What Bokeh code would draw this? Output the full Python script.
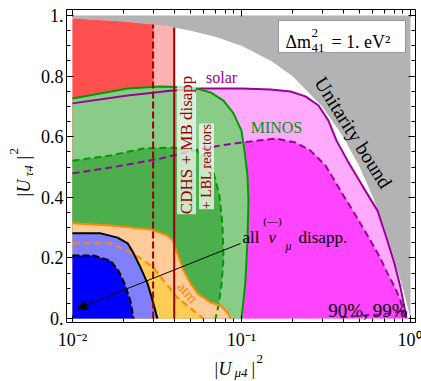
import numpy as np
from bokeh.plotting import figure
from bokeh.models import (Range1d, LogAxis, LinearAxis, FixedTicker, Label, Arrow,
                          NormalHead, BoxAnnotation, LogScale)
from bokeh.embed import file_html
from bokeh.resources import INLINE

# ---------------- data ----------------
# unitarity bound |U_mu4|^2 + |U_tau4|^2 = 1
ub_x = [0.01, 0.02, 0.03, 0.04, 0.05, 0.07, 0.1, 0.15, 0.2, 0.3, 0.4, 0.5, 0.6, 0.7, 0.8, 0.9, 0.95, 1.0]
ub_y = [0.99, 0.98, 0.97, 0.96, 0.95, 0.93, 0.90, 0.85, 0.80, 0.70, 0.60, 0.50, 0.40, 0.30, 0.20, 0.10, 0.05, 0.0]

# solar (99% solid, 90% dashed)
solar99_x = [0.0100, 0.0212, 0.0380, 0.0572, 0.100, 0.1485, 0.195, 0.239, 0.2855, 0.327, 0.365, 0.424, 0.527, 0.638, 0.721, 0.804, 0.873, 0.921, 0.947]
solar99_y = [0.710, 0.736, 0.752, 0.759, 0.759, 0.756, 0.749, 0.733, 0.703, 0.653, 0.587, 0.521, 0.432, 0.356, 0.267, 0.182, 0.102, 0.036, 0.0]
solar90_x = [0.0100, 0.0168, 0.0332, 0.0520, 0.0751, 0.100, 0.113, 0.159, 0.209, 0.256, 0.314, 0.401, 0.486, 0.580, 0.665, 0.731, 0.815, 0.873, 0.934]
solar90_y = [0.479, 0.498, 0.528, 0.554, 0.571, 0.581, 0.584, 0.594, 0.581, 0.554, 0.505, 0.406, 0.330, 0.257, 0.198, 0.149, 0.099, 0.059, 0.0]
solar90b_x = [0.385, 0.506, 0.665, 0.815, 0.934]
solar90b_y = [0.003, 0.010, 0.013, 0.020, 0.030]

# MINOS (99% solid, 90% dashed)
minos99_x = [0.0100, 0.0212, 0.0332, 0.0520, 0.0656, 0.0783, 0.0897, 0.100, 0.1042, 0.1085, 0.1100, 0.1085, 0.1056, 0.1028, 0.100]
minos99_y = [0.726, 0.759, 0.766, 0.762, 0.746, 0.719, 0.677, 0.620, 0.554, 0.472, 0.389, 0.257, 0.125, 0.059, 0.0]
minos90_x = [0.0100, 0.0168, 0.0263, 0.0396, 0.0534, 0.0629, 0.0683, 0.0741, 0.0772, 0.0783, 0.0761, 0.0731, 0.0702]
minos90_y = [0.521, 0.538, 0.561, 0.564, 0.554, 0.528, 0.482, 0.406, 0.307, 0.201, 0.109, 0.043, 0.0]

# CDHS + MB disapp + LBL reactors (vertical bounds)
cdhs90_x = 0.030
cdhs99_x = 0.040

# atmospheric (99% solid, 90% dashed)
atm99_x = [0.0100, 0.0168, 0.0289, 0.0365, 0.0391, 0.0418, 0.0454, 0.0499, 0.0549, 0.0656, 0.0751, 0.0827, 0.0861]
atm99_y = [0.314, 0.307, 0.294, 0.274, 0.257, 0.215, 0.158, 0.116, 0.083, 0.053, 0.043, 0.020, 0.0]
atm90_x = [0.0100, 0.0168, 0.0212, 0.0253, 0.0302, 0.0346, 0.0418, 0.0520, 0.0596]
atm90_y = [0.248, 0.248, 0.224, 0.198, 0.168, 0.125, 0.069, 0.026, 0.0]

# all (anti)nu_mu disappearance (99% solid, 90% dashed)
numu99_x = [0.0100, 0.0147, 0.0185, 0.0212, 0.0230, 0.0253, 0.0278, 0.0298, 0.0318]
numu99_y = [0.281, 0.281, 0.267, 0.248, 0.215, 0.168, 0.116, 0.059, 0.0]
numu90_x = [0.0100, 0.0133, 0.0168, 0.0187, 0.0203, 0.0220, 0.0230]
numu90_y = [0.208, 0.208, 0.191, 0.158, 0.116, 0.059, 0.0]

x_ticks = [0.01, 0.1, 1.0]
x_tick_labels = ["10\u207b\u00b2", "10\u207b\u00b9", "10\u2070"]
y_ticks = [0.0, 0.2, 0.4, 0.6, 0.8, 1.0]
y_tick_labels = ["0.", "0.2", "0.4", "0.6", "0.8", "1."]

# plot box (axis extents) and page extents in data units
BOX_X = (0.00921, 1.0705)
BOX_Y = (-0.0132, 1.0198)
PAGE_X = (0.003751, 1.1619)
PAGE_Y = (-0.2079, 1.0495)

# ---------------- figure ----------------
FONT = "Liberation Serif"
p = figure(width=421, height=381, x_axis_type="log", x_scale=LogScale(),
           x_axis_location=None, y_axis_location=None,
           x_range=Range1d(*PAGE_X), y_range=Range1d(*PAGE_Y),
           output_backend="svg", toolbar_location=None,
           min_border_left=0, min_border_right=0, min_border_top=0, min_border_bottom=0)
p.grid.visible = False
p.outline_line_color = None
p.background_fill_color = "white"
p.border_fill_color = "white"

x_minor = [m * d for d in (0.01, 0.1) for m in range(2, 10)]
y_minor = [round(0.05 * i, 2) for i in range(21) if i % 4 != 0]


def make_axis(cls, ticks, minor, labels, loc, bounds, show, side):
    ax = cls(fixed_location=loc, bounds=bounds)
    ax.ticker = FixedTicker(ticks=ticks, minor_ticks=minor)
    ax.major_tick_in = 7
    ax.major_tick_out = 0
    ax.minor_tick_in = 4
    ax.minor_tick_out = 0
    ax.axis_line_color = "black"
    ax.major_tick_line_color = "black"
    ax.minor_tick_line_color = "black"
    ax.major_label_text_font = FONT
    if show:
        ax.major_label_overrides = {t: l for t, l in zip(ticks, labels)}
        ax.major_label_text_font_size = "18px"
        ax.major_label_text_color = "black"
    else:
        ax.major_label_overrides = {t: "" for t in ticks}
        ax.major_label_text_font_size = "1px"
        ax.major_label_text_alpha = 0
        ax.major_label_standoff = 0
    p.add_layout(ax, side)
    return ax


xb = make_axis(LogAxis, x_ticks, x_minor, x_tick_labels, BOX_Y[0], BOX_X, True, "below")
xb.major_label_standoff = 7
yl = make_axis(LinearAxis, y_ticks, y_minor, y_tick_labels, BOX_X[0], BOX_Y, True, "left")
yl.major_label_standoff = 3
make_axis(LogAxis, x_ticks, x_minor, x_tick_labels, BOX_Y[1], BOX_X, False, "above")
make_axis(LinearAxis, y_ticks, y_minor, y_tick_labels, BOX_X[1], BOX_Y, False, "right")

ubx = np.array(ub_x)
uby = np.array(ub_y)
UB_TOP = 1.0

# gray unitarity-excluded region
p.patch(list(ubx) + [ubx[-1], ubx[0]], list(uby) + [UB_TOP, UB_TOP],
        fill_color="#b3b3b3", line_color=None)


def region(cx, cy, color):
    p.patch(list(cx) + [cx[0]], list(cy) + [0.0], fill_color=color, line_color=None)


def strip(xr, color):
    m = ubx < xr
    top = float(np.interp(xr, ubx, uby))
    xs = [ubx[0]] + list(ubx[m]) + [xr, xr]
    ys = [0.0] + list(uby[m]) + [top, 0.0]
    p.patch(xs, ys, fill_color=color, line_color=None)


region(solar99_x, solar99_y, "#ffaaff")
region(solar90_x, solar90_y, "#ff44ff")
strip(cdhs99_x, "#ffb0b0")
strip(cdhs90_x, "#ff5050")
region(minos99_x, minos99_y, "#88cc88")
region(minos90_x, minos90_y, "#4cae4c")
region(atm99_x, atm99_y, "#ffcc99")
region(atm90_x, atm90_y, "#ffcc55")
region(numu99_x, numu99_y, "#8080ff")
region(numu90_x, numu90_y, "#0000ff")

# contour lines
p.line(solar99_x, solar99_y, line_color="#990099", line_width=2)
p.line(solar90_x, solar90_y, line_color="#990099", line_width=2, line_dash="7 4")
p.line(solar90b_x, solar90b_y, line_color="#990099", line_width=2, line_dash="7 4")
p.line(minos99_x, minos99_y, line_color="#009900", line_width=2)
p.line(minos90_x, minos90_y, line_color="#009900", line_width=2, line_dash="7 4")
p.line(atm99_x, atm99_y, line_color="#ff8800", line_width=2)
p.line(atm90_x, atm90_y, line_color="#ff8800", line_width=2, line_dash="7 4")
p.line(numu99_x, numu99_y, line_color="black", line_width=2)
p.line(numu90_x, numu90_y, line_color="black", line_width=2, line_dash="7 3")
for xv, dash in ((cdhs90_x, "7 3"), (cdhs99_x, "solid")):
    p.segment(x0=[xv], y0=[0.0], x1=[xv], y1=[float(np.interp(xv, ubx, uby))],
              line_color="#990000", line_width=2, line_dash=dash)


def lab(x, y, text, size, color="black", angle=0.0, align="left", baseline="alphabetic",
        style="normal", bg=False):
    l = Label(x=x, y=y, text=text, text_font=FONT, text_font_size=f"{size}px",
              text_color=color, angle=angle, text_align=align, text_baseline=baseline,
              text_font_style=style)
    if bg:
        l.background_fill_color = "white"
        l.background_fill_alpha = 0.7
    p.add_layout(l)


# boxed labels
lab(0.0473, 0.587, "CDHS  +  MB disapp", 17, "#990000", angle=np.pi / 2,
    align="center", baseline="middle", bg=True)
lab(0.0621, 0.502, "+ LBL reactors", 14, "#990000", angle=np.pi / 2,
    align="center", baseline="middle", bg=True)
lab(0.0762, 0.795, "solar", 16, "#990099", align="center", baseline="middle")
lab(0.161, 0.630, "MINOS", 16, "#009900", align="center", baseline="middle")
lab(0.46, 0.614, "Unitarity bound", 20, "black", angle=-1.01, align="center", baseline="middle")
lab(0.0479, 0.086, "atm", 15, "#ff8800", angle=-0.84, align="center", baseline="middle")

# all nu_mu disapp.
lab(0.1014, 0.267, "all", 17)
lab(0.1444, 0.267, "\u03bd", 17, style="italic")
lab(0.1526, 0.322, "(\u2014)", 11, align="center", baseline="middle")
lab(0.182, 0.238, "\u03bc", 12, style="italic")
lab(0.2175, 0.267, "disapp.", 17)
p.add_layout(Arrow(end=NormalHead(size=9, fill_color="black", line_color="black"),
                   x_start=0.0986, y_start=0.2475, x_end=0.0107, y_end=0.033,
                   line_color="black", line_width=1))

lab(0.9598, 0.026, "90%, 99%", 19, align="right")

# Delta m^2 box
p.add_layout(BoxAnnotation(left=0.1656, right=0.9342, bottom=0.878, top=0.9835,
                           fill_color="white", fill_alpha=1.0, line_color="black", line_width=1))
lab(0.182, 0.911, "\u0394m", 18)
lab(0.2596, 0.941, "2", 13)
lab(0.2596, 0.894, "41", 13)
lab(0.3407, 0.911, "=  1. eV\u00b2", 18)

# axis titles built from pieces
lab(0.0692, -0.168, "|", 18)
lab(0.0731, -0.168, "U", 18, style="italic")
lab(0.0909, -0.178, "\u03bc4", 13, style="italic")
lab(0.1146, -0.168, "|", 18)
lab(0.1227, -0.132, "2", 13)

lab(0.0052, 0.4026, "|", 18, angle=np.pi / 2)
lab(0.0052, 0.416, "U", 18, angle=np.pi / 2, style="italic")
lab(0.00549, 0.4686, "\u03c44", 13, angle=np.pi / 2, style="italic")
lab(0.0052, 0.5248, "|", 18, angle=np.pi / 2)
lab(0.00448, 0.5413, "2", 13, angle=np.pi / 2)

open("out.html", "w").write(file_html(p, INLINE))
